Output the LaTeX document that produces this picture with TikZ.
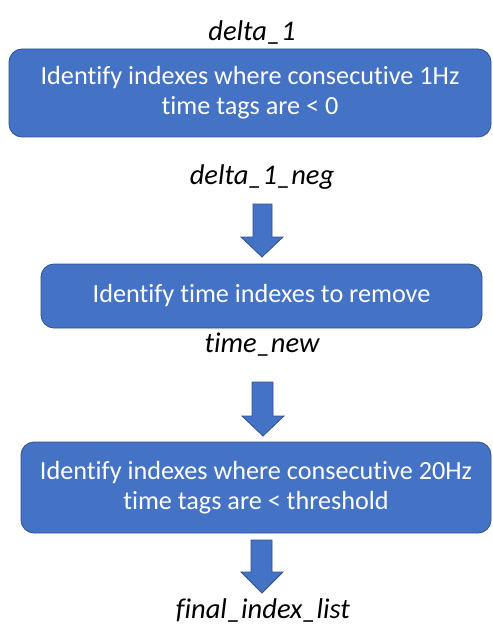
\documentclass[tikz,border=0pt]{standalone}
\usepackage{fontspec}
\setmainfont{Carlito}[Ligatures=NoCommon]
\definecolor{boxblue}{HTML}{4472C4}
\definecolor{boxedge}{HTML}{2F528F}
\begin{document}
\begin{tikzpicture}[x=1pt,y=-1pt,
  flowbox/.style={draw=boxedge, fill=boxblue, line width=0.8pt, rounded corners=13pt,
    text=white, font=\fontsize{26.2}{30}\selectfont, align=center, inner sep=0pt},
  varlabel/.style={font=\fontsize{28.5}{30}\selectfont\itshape, text=black, inner sep=0pt},
  blockarrow/.style={draw=boxedge, fill=boxblue, line width=0.8pt}]
\useasboundingbox (0,0) rectangle (492,631);
\node[varlabel] (d1) at (252,33) {delta\_1};
\node[flowbox, minimum width=482pt, minimum height=88pt] (b1) at (250,93)
  {Identify indexes where consecutive 1Hz\\time tags are < 0};
\node[varlabel] (d1n) at (262,177) {delta\_1\_neg};
\node[flowbox, minimum width=441pt, minimum height=64pt] (b2) at (261.5,296)
  {Identify time indexes to remove};
\node[varlabel] (tn) at (262,345) {time\_new};
\node[flowbox, minimum width=470pt, minimum height=91pt] (b3) at (256,487.5)
  {Identify indexes where consecutive 20Hz\\time tags are < threshold};
\node[varlabel] (fil) at (263,611) {final\_index\_list};
% block arrows
\draw[blockarrow] (253,204) -- (272,204) -- (272,237) -- (283,237) -- (262,257) -- (241,237) -- (253,237) -- cycle;
\draw[blockarrow] (252,382) -- (273,382) -- (273,416) -- (284,416) -- (263,436) -- (242,416) -- (252,416) -- cycle;
\draw[blockarrow] (251,540) -- (272,540) -- (272,572) -- (283,572) -- (262,593) -- (241,572) -- (251,572) -- cycle;
\end{tikzpicture}
\end{document}
